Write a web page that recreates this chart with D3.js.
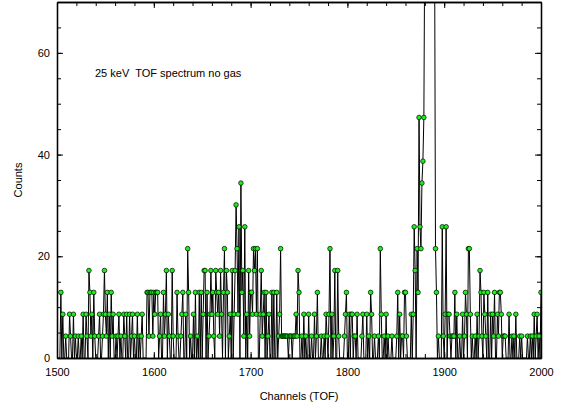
<!DOCTYPE html>
<html>
<head>
<meta charset="utf-8">
<script src="https://cdn.jsdelivr.net/npm/d3@7"></script>
<style>
    body { margin: 0; background: #fff; }
    svg { display: block; font-family: "Liberation Sans", Arial, Helvetica, sans-serif; }
    .axis text { font-size: 11px; fill: #000; }
    .axis path, .axis line { stroke: #000; }
</style>
</head>
<body>
<div id="chart"></div>
<script>
// channel number of the first entry in counts
const firstChannel = 1500
const lastChannel = 2000
// value of one count on the y axis
const countUnit = 4.3

// raw counts per channel, 20 channels per row (1500..2000)
const counts = [
    0, 0, 0, 0, 3, 0, 2, 0, 0, 1, 0, 0, 0, 2, 1, 0, 0, 2, 0, 1,
    0, 0, 1, 0, 0, 1, 0, 2, 0, 0, 2, 1, 0, 4, 3, 1, 2, 0, 3, 1,
    0, 0, 0, 1, 2, 0, 0, 1, 2, 4, 2, 1, 3, 0, 2, 0, 3, 1, 2, 0,
    0, 1, 0, 1, 2, 0, 1, 0, 0, 2, 1, 0, 2, 0, 0, 2, 0, 1, 2, 0,
    1, 0, 0, 2, 0, 1, 0, 1, 2, 0, 0, 0, 0, 3, 3, 1, 3, 3, 3, 1,
    3, 2, 3, 3, 3, 0, 1, 2, 0, 0, 3, 1, 2, 4, 0, 2, 1, 0, 0, 4,
    1, 0, 0, 0, 3, 1, 0, 0, 1, 2, 3, 0, 0, 2, 0, 5, 3, 0, 1, 0,
    0, 2, 0, 3, 0, 1, 0, 3, 0, 3, 0, 2, 4, 4, 0, 3, 0, 1, 2, 4,
    2, 3, 1, 0, 4, 3, 2, 3, 1, 4, 2, 0, 3, 5, 0, 4, 3, 0, 1, 2,
    0, 4, 0, 2, 4, 7, 5, 2, 6, 0, 8, 3, 4, 1, 6, 0, 2, 0, 4, 1,
    3, 3, 2, 5, 4, 5, 2, 5, 0, 0, 2, 4, 1, 2, 3, 0, 3, 0, 1, 2,
    0, 0, 3, 0, 3, 0, 0, 3, 0, 1, 2, 5, 1, 1, 1, 1, 1, 1, 1, 0,
    1, 1, 1, 0, 1, 1, 1, 2, 1, 4, 3, 0, 0, 1, 0, 2, 0, 1, 0, 0,
    2, 0, 0, 1, 0, 0, 2, 0, 1, 3, 0, 0, 0, 1, 0, 0, 1, 0, 2, 1,
    0, 2, 5, 0, 2, 0, 1, 4, 0, 0, 4, 1, 0, 0, 0, 0, 0, 1, 2, 3,
    0, 0, 2, 0, 2, 2, 0, 1, 1, 0, 2, 0, 0, 0, 0, 1, 2, 0, 0, 0,
    2, 0, 1, 0, 3, 2, 0, 0, 1, 0, 0, 0, 1, 0, 5, 2, 0, 0, 1, 0,
    2, 0, 1, 0, 0, 0, 1, 0, 0, 0, 0, 1, 3, 0, 2, 0, 1, 1, 0, 3,
    3, 1, 0, 0, 0, 0, 2, 0, 2, 6, 4, 0, 5, 3, 11, 6, 5, 8, 9, 11,
    20, 45, 90, 140, 170, 160, 120, 80, 50, 30, 20, 5, 3, 0, 1, 0, 0, 0, 6, 1,
    0, 2, 6, 0, 2, 2, 1, 0, 1, 1, 1, 3, 0, 2, 0, 0, 1, 0, 0, 2,
    0, 1, 3, 2, 0, 5, 5, 2, 0, 1, 0, 0, 1, 0, 2, 0, 1, 4, 3, 1,
    0, 3, 2, 1, 0, 3, 0, 0, 2, 0, 2, 1, 3, 0, 0, 2, 1, 3, 3, 2,
    0, 1, 1, 1, 0, 0, 0, 2, 0, 0, 1, 0, 1, 0, 2, 0, 0, 0, 1, 0,
    1, 0, 0, 0, 0, 0, 1, 0, 0, 1, 0, 1, 0, 2, 0, 1, 2, 0, 1, 0,
    3
]

const xMajorTicks = [1500, 1600, 1700, 1800, 1900, 2000]
const yMajorTicks = [0, 20, 40, 60]
const yMax = 70

const titleText = "25 keV  TOF spectrum no gas"
const xLabel = "Channels (TOF)"
const yLabel = "Counts"

const width = 566
const height = 408
const margin = { top: 2, right: 25, bottom: 50, left: 57 }
const innerW = width - margin.left - margin.right
const innerH = height - margin.top - margin.bottom

const data = counts.map((c, i) => ({ channel: firstChannel + i, value: c * countUnit }))

const svg = d3.select("#chart").append("svg")
    .attr("width", width)
    .attr("height", height)

const g = svg.append("g")
    .attr("transform", "translate(" + margin.left + "," + margin.top + ")")

const xScale = d3.scaleLinear()
    .domain([firstChannel, lastChannel])
    .range([0, innerW])
const yScale = d3.scaleLinear()
    .domain([0, yMax])
    .range([innerH, 0])

const xMinor = xScale.ticks(25)
const yMinor = yScale.ticks(14)

g.append("defs").append("clipPath")
    .attr("id", "clip")
    .append("rect")
    .attr("width", innerW)
    .attr("height", innerH)

const plot = g.append("g")
    .attr("clip-path", "url(#clip)")

const line = d3.line()
    .x(d => xScale(d.channel))
    .y(d => yScale(d.value))

plot.append("path")
    .datum(data)
    .attr("fill", "none")
    .attr("stroke", "#000")
    .attr("stroke-width", 1)
    .attr("d", line)

plot.selectAll("circle")
    .data(data.filter(d => d.value > 0))
    .enter()
    .append("circle")
    .attr("cx", d => xScale(d.channel))
    .attr("cy", d => yScale(d.value))
    .attr("r", 2.3)
    .style("fill", "#1cf01c")
    .style("stroke", "#000")
    .style("stroke-width", 0.7)

// ticks point inward on all four sides
function addAxis(axis, transform, cls) {
    const a = g.append("g")
        .attr("class", "axis " + cls)
        .attr("transform", transform)
        .call(axis)
    a.select(".domain").attr("stroke-width", 1.3)
    a.selectAll(".tick line").attr("stroke-width", 1)
    return a
}

addAxis(d3.axisBottom(xScale).tickValues(xMinor).tickSize(-4).tickSizeOuter(0).tickFormat(""),
    "translate(0," + innerH + ")", "minor")
addAxis(d3.axisBottom(xScale).tickValues(xMajorTicks).tickSize(-6).tickSizeOuter(0).tickPadding(10).tickFormat(d3.format("d")),
    "translate(0," + innerH + ")", "x")
addAxis(d3.axisTop(xScale).tickValues(xMinor).tickSize(-4).tickSizeOuter(0).tickFormat(""),
    "translate(0,0)", "minor")
addAxis(d3.axisTop(xScale).tickValues(xMajorTicks).tickSize(-6).tickSizeOuter(0).tickFormat(""),
    "translate(0,0)", "x-top")

addAxis(d3.axisLeft(yScale).tickValues(yMinor).tickSize(-4).tickSizeOuter(0).tickFormat(""),
    "translate(0,0)", "minor")
addAxis(d3.axisLeft(yScale).tickValues(yMajorTicks).tickSize(-6).tickSizeOuter(0).tickPadding(7),
    "translate(0,0)", "y")
addAxis(d3.axisRight(yScale).tickValues(yMinor).tickSize(-4).tickSizeOuter(0).tickFormat(""),
    "translate(" + innerW + ",0)", "minor")
addAxis(d3.axisRight(yScale).tickValues(yMajorTicks).tickSize(-6).tickSizeOuter(0).tickFormat(""),
    "translate(" + innerW + ",0)", "y-right")

g.append("text")
    .attr("x", 38)
    .attr("y", 75)
    .style("font-size", "11px")
    .style("white-space", "pre")
    .text(titleText)

svg.append("text")
    .attr("x", margin.left + innerW / 2)
    .attr("y", 400)
    .attr("text-anchor", "middle")
    .style("font-size", "11px")
    .text(xLabel)

svg.append("text")
    .attr("transform", "translate(22," + (margin.top + innerH / 2) + ") rotate(-90)")
    .attr("text-anchor", "middle")
    .style("font-size", "11px")
    .text(yLabel)
</script>
</body>
</html>
